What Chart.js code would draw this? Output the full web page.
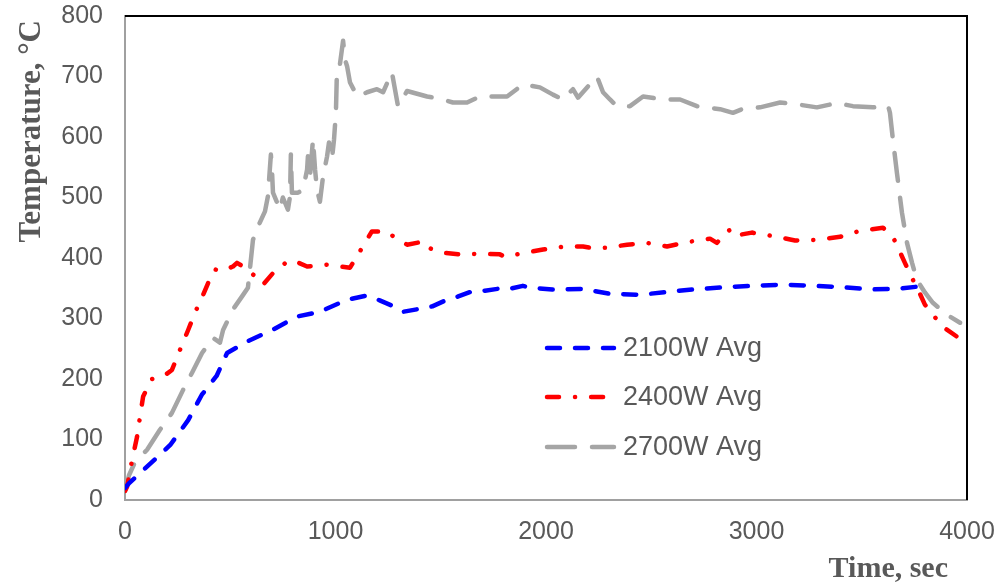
<!DOCTYPE html>
<html>
  <head>
    <meta charset="utf-8"/>
    <style type="text/css">
      body {
        margin: 0px;
        padding: 0px;
        background: #ffffff;
      }
      #wrap {
        width: 1003px;
        height: 586px;
      }
    </style>
  </head>
  <body>
    <div id="wrap"><canvas id="chart" width="1003" height="586"></canvas></div>
  </body>
  <script src="https://cdn.jsdelivr.net/npm/chart.js@4/dist/chart.umd.min.js"></script>
  <script>
    // series names
    var seriesNames = ['2100W Avg', '2400W Avg', '2700W Avg'];

    // axis ticks
    var xTicks = [0, 1000, 2000, 3000, 4000];
    var yTicks = [0, 100, 200, 300, 400, 500, 600, 700, 800];

    // 2100W
    var time2100 = [0, 20, 120, 215, 300, 365, 435, 485, 580, 700, 815, 925, 1055, 1150, 1210, 1290, 1320, 1400, 1460, 1530, 1580, 1650, 1710, 1770, 1815, 1890, 1925, 2030, 2175, 2300, 2445, 2575, 2700, 2860, 2985, 3125, 3270, 3400, 3540, 3670, 3800];
    var temp2100 = [20, 28, 60, 91, 132, 174, 205, 243, 262, 281, 303, 311, 331, 338, 330, 318, 311, 316, 320, 331, 336, 345, 346, 349, 348, 354, 351, 348, 349, 341, 339, 344, 348, 352, 354, 356, 354, 352, 348, 349, 354];

    // 2400W
    var time2400 = [0, 10, 32, 57, 71, 86, 128, 181, 223, 261, 300, 333, 371, 404, 428, 461, 513, 532, 570, 627, 656, 703, 770, 798, 865, 960, 1069, 1116, 1173, 1245, 1273, 1340, 1416, 1440, 1506, 1591, 1686, 1781, 1805, 1876, 1986, 2090, 2176, 2209, 2290, 2385, 2480, 2575, 2684, 2779, 2812, 2860, 2898, 2931, 2978, 3064, 3112, 3183, 3287, 3397, 3492, 3601, 3648, 3672, 3705, 3743, 3767, 3800, 3857, 3886, 3952];
    var temp2400 = [15, 22, 63, 104, 137, 171, 200, 204, 215, 248, 281, 310, 339, 366, 381, 378, 386, 392, 384, 367, 356, 375, 394, 396, 386, 389, 384, 411, 444, 444, 436, 422, 427, 417, 409, 406, 407, 406, 402, 407, 414, 419, 419, 417, 417, 422, 425, 419, 427, 432, 425, 444, 450, 439, 442, 437, 434, 429, 430, 435, 445, 450, 435, 417, 392, 364, 348, 323, 298, 286, 270];

    // 2700W
    var time2700 = [0, 19, 48, 105, 166, 223, 276, 318, 366, 418, 451, 466, 513, 561, 584, 608, 632, 641, 665, 679, 693, 698, 703, 722, 736, 750, 774, 784, 788, 793, 822, 846, 865, 869, 879, 893, 903, 912, 926, 941, 960, 969, 983, 993, 1002, 1007, 1021, 1036, 1045, 1055, 1069, 1093, 1107, 1150, 1197, 1226, 1268, 1297, 1340, 1435, 1511, 1558, 1625, 1686, 1815, 1891, 1971, 2033, 2081, 2128, 2152, 2195, 2242, 2271, 2304, 2337, 2399, 2461, 2556, 2637, 2717, 2827, 2888, 2931, 3017, 3112, 3192, 3287, 3382, 3458, 3553, 3625, 3634, 3648, 3667, 3691, 3715, 3739, 3762, 3800, 3838, 3905, 3967];
    var temp2700 = [15, 41, 63, 83, 116, 144, 182, 210, 243, 268, 260, 281, 315, 339, 351, 430, 452, 459, 477, 502, 571, 546, 508, 492, 480, 500, 480, 502, 571, 508, 508, 513, 546, 568, 535, 596, 546, 513, 493, 535, 568, 591, 563, 596, 641, 712, 720, 759, 728, 717, 690, 674, 667, 674, 679, 674, 707, 651, 676, 667, 662, 657, 657, 667, 667, 687, 682, 670, 662, 679, 665, 682, 700, 674, 662, 651, 651, 667, 662, 662, 651, 646, 640, 646, 649, 657, 654, 649, 656, 651, 649, 652, 640, 596, 541, 475, 425, 392, 364, 343, 326, 306, 293];

    function toPoints(xs, ys) {
      var pts = [];
      for (var i = 0; i < xs.length; i++) pts.push({x: xs[i], y: ys[i]});
      return pts;
    }

    var TEXT = '#595959';
    var SANS = '"Liberation Sans", Arial, sans-serif';
    var SERIF = '"Liberation Serif", "Times New Roman", serif';

    // frame (black top/right) + axis titles + legend inside the plot
    var decorations = {
      id: 'decorations',
      afterDraw: function(chart) {
        var ctx = chart.ctx, a = chart.chartArea;
        ctx.save();
        ctx.strokeStyle = '#000000';
        ctx.lineWidth = 2;
        ctx.beginPath();
        ctx.moveTo(a.left, a.top);
        ctx.lineTo(a.right, a.top);
        ctx.lineTo(a.right, a.bottom);
        ctx.stroke();

        ctx.fillStyle = TEXT;
        ctx.font = 'bold 30px ' + SERIF;
        ctx.textAlign = 'right';
        ctx.textBaseline = 'alphabetic';
        ctx.fillText('Time, sec', a.right - 19, 577);

        ctx.font = 'bold 31px ' + SERIF;
        ctx.translate(40, a.top + 4);
        ctx.rotate(-Math.PI / 2);
        ctx.fillText('Temperature, \u00B0C', 0, 0);
        ctx.restore();

        // legend
        ctx.save();
        var rows = [348, 397, 447];
        chart.data.datasets.forEach(function(ds, i) {
          ctx.strokeStyle = ds.borderColor;
          ctx.lineWidth = ds.borderWidth;
          ctx.lineCap = 'round';
          ctx.setLineDash(ds.borderDash);
          ctx.beginPath();
          ctx.moveTo(547, rows[i]);
          ctx.lineTo(614, rows[i]);
          ctx.stroke();
          ctx.setLineDash([]);
          ctx.fillStyle = TEXT;
          ctx.font = '27px ' + SANS;
          ctx.textAlign = 'left';
          ctx.textBaseline = 'middle';
          ctx.fillText(ds.label, 623, rows[i] + 1);
        });
        ctx.restore();
      }
    };

    var data = {
      datasets: [{
        label: seriesNames[0],
        data: toPoints(time2100, temp2100),
        borderColor: '#0000ff',
        borderWidth: 4.5,
        borderDash: [13, 15],
        borderCapStyle: 'round',
        borderJoinStyle: 'round'
      }, {
        label: seriesNames[1],
        data: toPoints(time2400, temp2400),
        borderColor: '#ff0000',
        borderWidth: 4.5,
        borderDash: [12, 16, 0.1, 16],
        borderCapStyle: 'round',
        borderJoinStyle: 'round'
      }, {
        label: seriesNames[2],
        data: toPoints(time2700, temp2700),
        borderColor: '#a5a5a5',
        borderWidth: 4.5,
        borderDash: [28, 17],
        borderCapStyle: 'round',
        borderJoinStyle: 'round'
      }]
    };

    function plain(v) { return String(v); }

    var options = {
      responsive: false,
      animation: false,
      layout: {
        padding: {top: 16, right: 36, bottom: 0, left: 0}
      },
      elements: {
        point: {radius: 0},
        line: {tension: 0, fill: false}
      },
      plugins: {
        legend: {display: false},
        tooltip: {enabled: false}
      },
      scales: {
        x: {
          type: 'linear',
          min: 0,
          max: 4000,
          afterBuildTicks: function(scale) {
            scale.ticks = xTicks.map(function(v) { return {value: v}; });
          },
          afterFit: function(scale) {
            scale.height = 86;
            scale.paddingLeft = 0;
            scale.paddingRight = 0;
          },
          grid: {display: false, drawTicks: false},
          border: {color: '#a0a0a0', width: 2},
          ticks: {color: TEXT, font: {family: SANS, size: 25}, padding: 17, maxRotation: 0, callback: plain}
        },
        y: {
          type: 'linear',
          min: 0,
          max: 800,
          afterBuildTicks: function(scale) {
            scale.ticks = yTicks.map(function(v) { return {value: v}; });
          },
          afterFit: function(scale) {
            scale.width = 125;
            scale.paddingTop = 0;
            scale.paddingBottom = 0;
          },
          grid: {display: false, drawTicks: false},
          border: {color: '#a0a0a0', width: 2},
          ticks: {color: TEXT, font: {family: SANS, size: 25}, padding: 22, callback: plain}
        }
      }
    };

    var chart = new Chart(document.getElementById('chart'), {
      type: 'line',
      data: data,
      options: options,
      plugins: [decorations]
    });
  </script>
</html>
